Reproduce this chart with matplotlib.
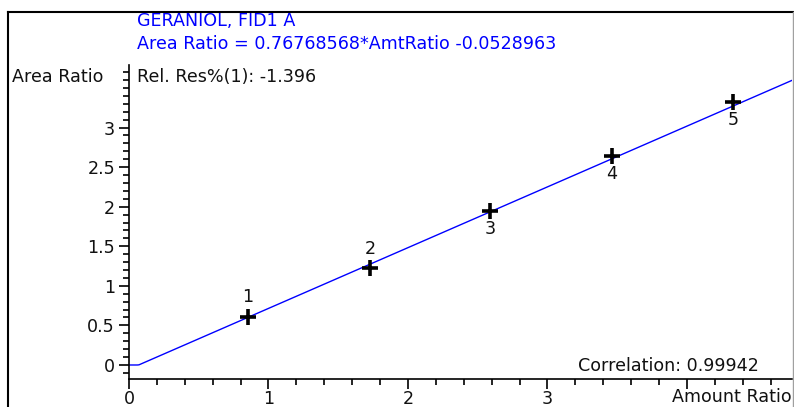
import numpy as np
import matplotlib
matplotlib.use("Agg")
import matplotlib.pyplot as plt
from matplotlib.ticker import MultipleLocator, FixedLocator
from matplotlib.lines import Line2D

# Data
amt_ratio = [0.853, 1.728, 2.588, 3.462, 4.330]
area_ratio = [0.607, 1.226, 1.947, 2.642, 3.325]
point_labels = ["1", "2", "3", "4", "5"]
label_above = [True, True, False, False, False]
slope = 0.76768568
intercept = -0.0528963
x_ticks = [0, 1, 2, 3, 4]
x_ticklabels = ["0", "1", "2", "3", ""]
y_ticks = [0, 0.5, 1, 1.5, 2, 2.5, 3]
y_ticklabels = ["0", "0.5", "1", "1.5", "2", "2.5", "3"]

plt.rcParams['font.family'] = ['DejaVu Sans']
FS = 12.6
TXT = "#111111"

W, H = 794, 407
fig = plt.figure(figsize=(W / 100, H / 100), dpi=100)
ax = fig.add_axes([129 / W, 28 / H, 663 / W, 314 / H])
xmax = 4.753
ax.set_xlim(0, xmax)
ax.set_ylim(-0.177, 3.79)

# fit line
xs = np.linspace(0, xmax, 400)
ys = np.maximum(0, slope * xs + intercept)
ax.plot(xs, ys, color="#0000ff", lw=1.0)

# points
ax.plot(amt_ratio, area_ratio, ls="none", marker="+", ms=11, mew=2.6, color="black")
for x, y, t, above in zip(amt_ratio, area_ratio, point_labels, label_above):
    off = 14 if above else -13
    ax.annotate(t, (x, y), xytext=(0, off), textcoords="offset points",
                ha="center", va="center", fontsize=FS, color=TXT)

# spines
for s in ["top", "right"]:
    ax.spines[s].set_visible(False)
ax.spines["left"].set_linewidth(1.2)
ax.spines["bottom"].set_linewidth(1.2)

ax.xaxis.set_major_locator(FixedLocator(x_ticks))
ax.set_xticklabels(x_ticklabels)
ax.xaxis.set_minor_locator(MultipleLocator(0.2))
ax.yaxis.set_major_locator(FixedLocator(y_ticks))
ax.set_yticklabels(y_ticklabels)
ax.yaxis.set_minor_locator(MultipleLocator(0.1))
ax.tick_params(axis="both", which="major", direction="out", length=7, width=1.2,
               labelsize=FS, pad=3, colors="black", labelcolor=TXT)
ax.tick_params(axis="x", which="major", pad=1)
ax.tick_params(axis="both", which="minor", direction="out", length=4, width=1.2)

# text
fig.text(137 / W, 1 - 21 / H, "GERANIOL, FID1 A", color="#0000ff", fontsize=FS,
         va="center", ha="left")
fig.text(137 / W, 1 - 44 / H, "Area Ratio = 0.76768568*AmtRatio -0.0528963",
         color="#0000ff", fontsize=FS, va="center", ha="left")
fig.text(12 / W, 1 - 77 / H, "Area Ratio", color=TXT, fontsize=FS,
         va="center", ha="left")
fig.text(137 / W, 1 - 77 / H, "Rel. Res%(1): -1.396", color=TXT, fontsize=FS,
         va="center", ha="left")
fig.text(578 / W, 1 - 366 / H, "Correlation: 0.99942", color=TXT, fontsize=FS,
         va="center", ha="left")
fig.text(672 / W, 1 - 397 / H, "Amount Ratio", color=TXT, fontsize=FS,
         va="center", ha="left")

# frame
fig.add_artist(Line2D([8 / W, 793 / W], [1 - 12 / H, 1 - 12 / H], color="black", lw=1.5,
                      transform=fig.transFigure))
fig.add_artist(Line2D([8 / W, 8 / W], [1 - 12 / H, 0], color="black", lw=1.5,
                      transform=fig.transFigure))
fig.add_artist(Line2D([792.5 / W, 792.5 / W], [1 - 12 / H, 0], color="#a0a0a0", lw=1.0,
                      transform=fig.transFigure))

fig.savefig("out.png", dpi=100)
